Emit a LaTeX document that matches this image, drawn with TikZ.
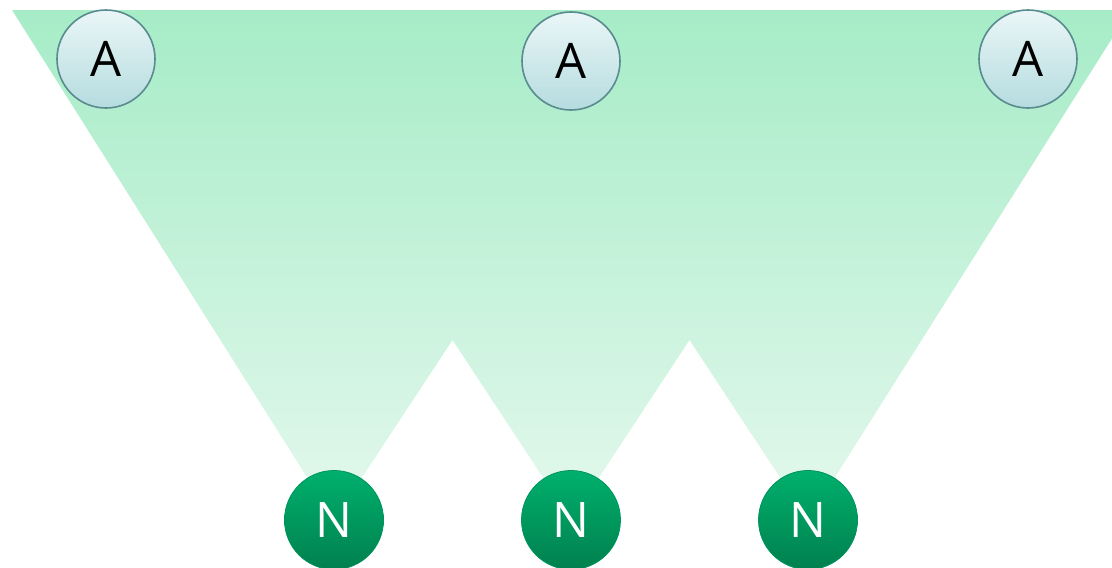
\documentclass[tikz,border=0pt]{standalone}
\usepackage{fontspec}
\setmainfont{Open Sans}
\definecolor{fanTop}{HTML}{A6ECC7}
\definecolor{fanBot}{HTML}{E4F8ED}
\definecolor{aTop}{HTML}{EAF6F7}
\definecolor{aBot}{HTML}{B5DCDF}
\definecolor{aLine}{HTML}{5A8B8F}
\definecolor{nTop}{HTML}{00B06C}
\definecolor{nBot}{HTML}{00804E}
\definecolor{nLine}{HTML}{00935F}
\tikzset{
  anode/.style={circle, inner sep=0pt, minimum size=98pt, top color=aTop, bottom color=aBot, draw=aLine, line width=1.6pt, text=black, font=\fontsize{49}{49}\selectfont},
  nnode/.style={circle, inner sep=0pt, minimum size=99pt, top color=nTop, bottom color=nBot, draw=nLine, line width=0.8pt, text=white, font=\fontsize{49}{49}\selectfont},
}
\begin{document}
\begin{tikzpicture}[x=1pt,y=-1pt]
\useasboundingbox (0,0) rectangle (1112,568);
\begin{scope}
\clip (0,0) rectangle (1112,568);
\coordinate (tl) at (12,10);
\coordinate (tr) at (1130,10);
\coordinate (p1) at (452.5,340);
\coordinate (p2) at (689.5,340);
\coordinate (c1) at (334,520);
\coordinate (c2) at (571,520);
\coordinate (c3) at (808,520);
\shade[top color=fanTop, bottom color=fanBot] (tl) -- (c1) -- (p1) -- (c2) -- (p2) -- (c3) -- (tr) -- cycle;
\node[anode] (a1) at (106,59) {A};
\node[anode] (a2) at (571,61) {A};
\node[anode] (a3) at (1028,59) {A};
\node[nnode] (n1) at (c1) {N};
\node[nnode] (n2) at (c2) {N};
\node[nnode] (n3) at (c3) {N};
\end{scope}
\end{tikzpicture}
\end{document}
